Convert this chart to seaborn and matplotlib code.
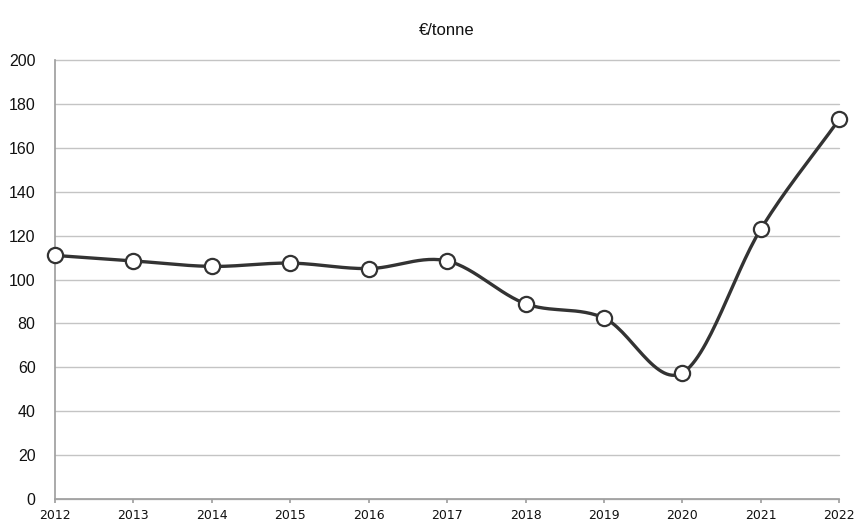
import numpy as np
import pandas as pd
import matplotlib
matplotlib.use("Agg")
import matplotlib.pyplot as plt
import seaborn as sns

years = [2012, 2013, 2014, 2015, 2016, 2017, 2018, 2019, 2020, 2021, 2022]
prices = [111, 108.5, 106, 107.5, 105, 108.5, 89, 82.5, 57.5, 123, 173]
y_ticks = [0, 20, 40, 60, 80, 100, 120, 140, 160, 180, 200]
title = "€/tonne"

sns.set_theme(style="white")
plt.rcParams['font.family'] = ['Liberation Sans', 'DejaVu Sans']

# Catmull-Rom smoothing (Excel-like smoothed line) between data points
def smooth(x, y, n=30):
    x = np.asarray(x, float); y = np.asarray(y, float)
    px = np.concatenate([[2*x[0]-x[1]], x, [2*x[-1]-x[-2]]])
    py = np.concatenate([[2*y[0]-y[1]], y, [2*y[-1]-y[-2]]])
    xs, ys = [], []
    for i in range(1, len(px)-2):
        t = np.linspace(0, 1, n, endpoint=False)
        for arr, out in ((px, xs), (py, ys)):
            p0, p1, p2, p3 = arr[i-1], arr[i], arr[i+1], arr[i+2]
            out.append(0.5*((2*p1) + (-p0+p2)*t + (2*p0-5*p1+4*p2-p3)*t**2 + (-p0+3*p1-3*p2+p3)*t**3))
    xs.append([x[-1]]); ys.append([y[-1]])
    return np.concatenate(xs), np.concatenate(ys)

sx, sy = smooth(years, prices)
curve = pd.DataFrame({"year": sx, "price": sy})
pts = pd.DataFrame({"year": years, "price": prices})

fig = plt.figure(figsize=(8.59, 5.26), dpi=100)
ax = fig.add_axes([0.064, 0.051, 0.913, 0.835])

for v in y_ticks:
    ax.axhline(v, color="#c4c4c4", lw=1.0, zorder=0)

sns.lineplot(data=curve, x="year", y="price", ax=ax, color="#333333", lw=2.4, sort=False, zorder=2)
sns.scatterplot(data=pts, x="year", y="price", ax=ax, s=120, color="white",
                edgecolor="#333333", linewidth=1.6, zorder=3)

ax.set_xlim(2012, 2022)
ax.set_ylim(0, 200)
ax.set_yticks(y_ticks)
ax.set_yticklabels([str(v) for v in y_ticks], fontsize=11.5, color="#111111")
ax.set_xticks(years)
ax.set_xticklabels([str(y) for y in years], fontsize=9, color="#111111",
                   family=['DejaVu Sans'])
ax.set_xlabel("")
ax.set_ylabel("")
for s in ["top", "right"]:
    ax.spines[s].set_visible(False)
ax.spines["left"].set_color("#a0a0a0")
ax.spines["bottom"].set_color("#a0a0a0")
ax.tick_params(axis="x", length=3, color="#a0a0a0", pad=4, direction="out", bottom=True)
ax.tick_params(axis="y", length=0, pad=14)
ax.set_title(title, fontsize=12, pad=18, color="#111111", fontweight="medium")
for coll in ax.collections:
    coll.set_clip_on(False)
for ln in ax.lines:
    ln.set_clip_on(False)

fig.savefig("out.png", dpi=100, facecolor="white")
